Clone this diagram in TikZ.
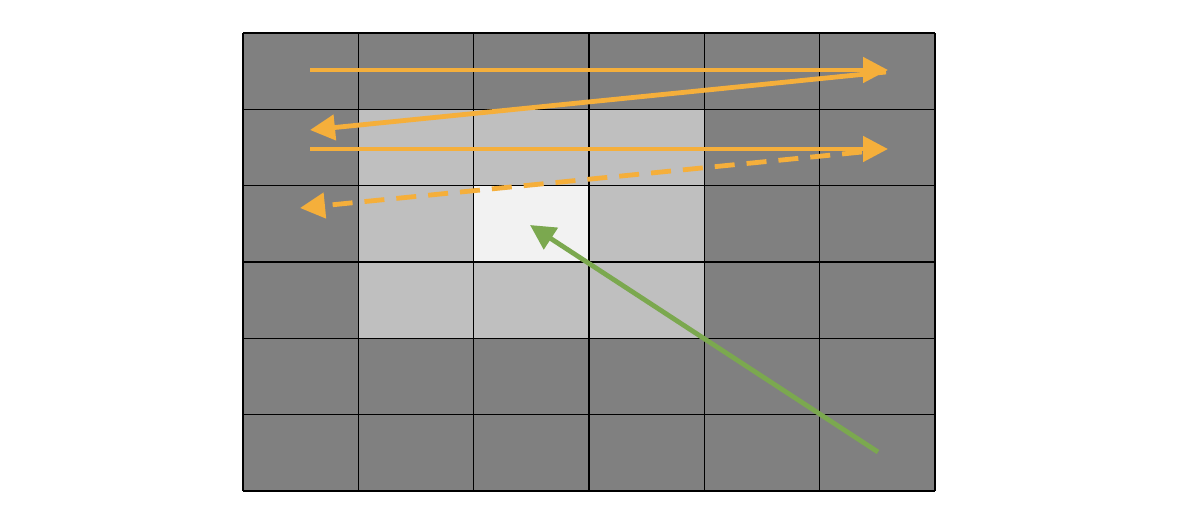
\documentclass[tikz,border=0pt]{standalone}
\usetikzlibrary{arrows.meta}
\definecolor{dk}{HTML}{808080}
\definecolor{lt}{HTML}{BFBFBF}
\definecolor{wh}{HTML}{F2F2F2}
\definecolor{org}{HTML}{F5AF3B}
\definecolor{grn}{HTML}{7BA84F}
\tikzset{
  gridline/.style={line width=1.6pt},
  scan/.style={draw=org, line width=4.8pt, -{Triangle[length=25pt,width=25pt]}},
  scandash/.style={scan, dash pattern=on 20pt off 12pt},
  probe/.style={draw=grn, line width=4.8pt, -{Triangle[length=25pt,width=25pt]}},
}
\begin{document}
\begin{tikzpicture}[x=1pt,y=-1pt]
\useasboundingbox (0,0) rectangle (1180,530);
% cells
\fill[dk] (243,33) rectangle (935,491);
\foreach \c/\r in {1/1,2/1,3/1,1/2,3/2,1/3,2/3,3/3}{
  \pgfmathsetmacro{\xa}{243+\c*115.33}
  \pgfmathsetmacro{\ya}{33+\r*76.33}
  \fill[lt] (\xa,\ya) rectangle ++(115.33,76.33);
}
\fill[wh] (243+2*115.33,33+2*76.33) rectangle ++(115.33,76.33);
\foreach \i in {0,...,6}{
  \draw[gridline] (243+\i*115.33,33) -- (243+\i*115.33,491);
  \draw[gridline] (243,33+\i*76.33) -- (935,33+\i*76.33);
}
% arrows
\coordinate (a1s) at (310,70);
\coordinate (a1e) at (888,70);
\coordinate (a2s) at (886,72);
\coordinate (a2e) at (310,130);
\coordinate (a3s) at (310,149);
\coordinate (a3e) at (888,149);
\coordinate (a4s) at (862,152);
\coordinate (a4e) at (300,208);
\coordinate (gs) at (878,452);
\coordinate (ge) at (530,225);
\draw[scan] (a1s) -- (a1e);
\draw[scan] (a2s) -- (a2e);
\draw[scan] (a3s) -- (a3e);
\draw[scandash] (a4s) -- (a4e);
\draw[probe] (gs) -- (ge);
\end{tikzpicture}
\end{document}
